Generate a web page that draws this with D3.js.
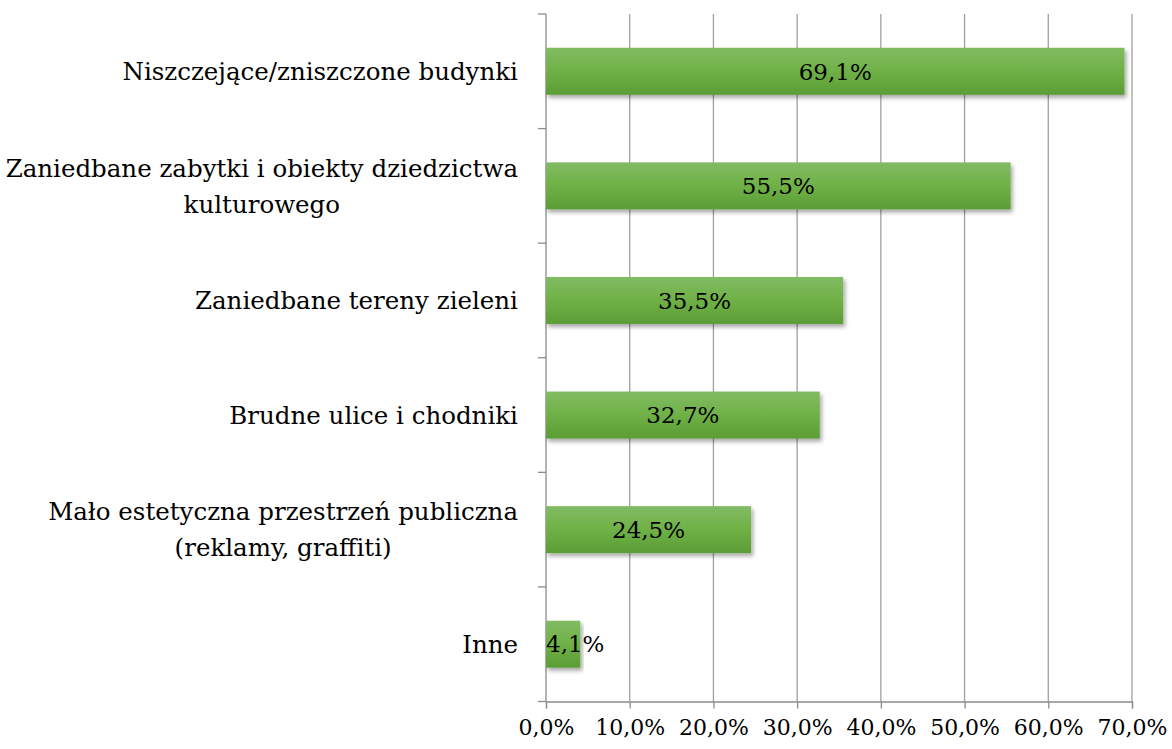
<!DOCTYPE html>
<html><head><meta charset="utf-8">
<script src="https://cdn.jsdelivr.net/npm/d3@7"></script>
<style>body{margin:0;background:#fff;} svg{display:block;}</style>
</head><body>
<svg id="c" width="1172" height="749"></svg>
<script>
const categories = [
  ["Niszczejące/zniszczone budynki"],
  ["Zaniedbane zabytki i obiekty dziedzictwa", "kulturowego"],
  ["Zaniedbane tereny zieleni"],
  ["Brudne ulice i chodniki"],
  ["Mało estetyczna przestrzeń publiczna", "(reklamy, graffiti)"],
  ["Inne"]
];
const values = [69.1, 55.5, 35.5, 32.7, 24.5, 4.1];
const xTicks = [0, 10, 20, 30, 40, 50, 60, 70];

const FONT = "'DejaVu Serif', serif";
const svg = d3.select("#c");
const x = d3.scaleLinear().domain([0, 70]).range([546, 1132]);
const y = d3.scaleBand().domain(d3.range(categories.length)).range([14, 701.5]).paddingInner(0.59).paddingOuter(0.295);
const fmt = v => d3.format(".1f")(v).replace(".", ",") + "%";

const defs = svg.append("defs");
const g = defs.append("linearGradient").attr("id", "bg").attr("x1", 0).attr("y1", 0).attr("x2", 0).attr("y2", 1);
g.append("stop").attr("offset", "0%").attr("stop-color", "#82bb64");
g.append("stop").attr("offset", "50%").attr("stop-color", "#6fb146");
g.append("stop").attr("offset", "100%").attr("stop-color", "#5b9d35");
const f = defs.append("filter").attr("id", "sh").attr("x", "-5%").attr("y", "-20%").attr("width", "115%").attr("height", "150%");
f.append("feDropShadow").attr("dx", 2).attr("dy", 3).attr("stdDeviation", 2).attr("flood-color", "#000").attr("flood-opacity", 0.35);

// gridlines
svg.append("g").selectAll("line").data(xTicks.slice(1)).join("line")
  .attr("x1", d => x(d)).attr("x2", d => x(d))
  .attr("y1", 14).attr("y2", 701.5)
  .attr("stroke", "#a0a0a0").attr("stroke-width", 1.3);

// x axis
const xAxis = d3.axisBottom(x).tickValues(xTicks).tickSize(7).tickFormat(fmt);
const xg = svg.append("g").attr("transform", "translate(0,701.5)").call(xAxis);
xg.select(".domain").attr("stroke", "#8c8c8c").attr("stroke-width", 1.3);
xg.selectAll(".tick line").attr("stroke", "#8c8c8c").attr("stroke-width", 1.3);
xg.selectAll(".tick text").attr("font-family", FONT).attr("font-size", 22).attr("fill", "#000").attr("dy", "1.07em");

// y axis line with boundary ticks
const bounds = d3.range(categories.length + 1).map(i => 14 + i * (701.5 - 14) / categories.length);
svg.append("line").attr("x1", 546).attr("x2", 546).attr("y1", 14).attr("y2", 701.5).attr("stroke", "#8c8c8c").attr("stroke-width", 1.3);
svg.append("g").selectAll("line").data(bounds).join("line")
  .attr("x1", 538).attr("x2", 546).attr("y1", d => d).attr("y2", d => d)
  .attr("stroke", "#8c8c8c").attr("stroke-width", 1.3);

// bars
svg.append("g").selectAll("rect").data(values).join("rect")
  .attr("x", x(0)).attr("y", (d, i) => y(i))
  .attr("width", d => x(d) - x(0)).attr("height", y.bandwidth())
  .attr("fill", "url(#bg)").attr("filter", "url(#sh)");

// value labels
const vl = svg.append("g").selectAll("text").data(values).join("text")
  .attr("y", (d, i) => y(i) + y.bandwidth() / 2)
  .attr("dy", "0.36em").attr("text-anchor", "middle")
  .attr("font-family", FONT).attr("font-size", 23).attr("fill", "#000")
  .text(fmt);
vl.each(function(d) {
  const w = this.getComputedTextLength();
  const cx = Math.max((x(0) + x(d)) / 2, x(0) + w / 2);
  d3.select(this).attr("x", cx);
});

// category labels
const cl = svg.append("g").selectAll("g").data(categories).join("g");
cl.each(function(lines, i) {
  const gg = d3.select(this);
  const cy = y(i) + y.bandwidth() / 2;
  const lh = 36;
  const t = gg.append("text").attr("font-family", FONT).attr("font-size", 24.5).attr("fill", "#000").attr("text-anchor", "middle");
  lines.forEach((ln, k) => {
    t.append("tspan").attr("x", 0).attr("y", cy + (k - (lines.length - 1) / 2) * lh).attr("dy", "0.36em").text(ln);
  });
  const w = t.node().getBBox().width;
  t.attr("transform", `translate(${518 - w / 2},0)`);
});
</script>
</body></html>
